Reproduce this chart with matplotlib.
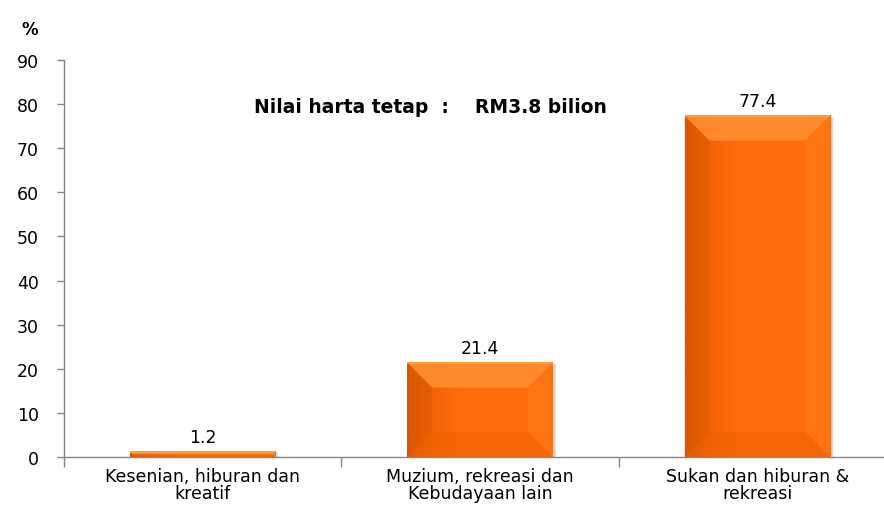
import matplotlib
matplotlib.use("Agg")
import matplotlib.pyplot as plt
import numpy as np
from matplotlib.patches import Polygon
from matplotlib.colors import to_rgba

categories = ["Kesenian, hiburan dan\nkreatif",
              "Muzium, rekreasi dan\nKebudayaan lain",
              "Sukan dan hiburan &\nrekreasi"]
values = [1.2, 21.4, 77.4]
value_labels = ["1.2", "21.4", "77.4"]
yticks = [0, 10, 20, 30, 40, 50, 60, 70, 80, 90]
note = "Nilai harta tetap  :    RM3.8 bilion"
unit = "%"

plt.rcParams['font.family'] = ['DejaVu Sans']

W, H = 884, 510
fig = plt.figure(figsize=(W / 100, H / 100), dpi=100)
ax = fig.add_axes([64 / W, (H - 458) / H, (896 - 64) / W, (458 - 61) / H])

x = np.arange(len(values))
ax.set_xlim(-0.5, len(values) - 0.5)
ax.set_ylim(0, 90)
face = '#FF6C0C'
bars = ax.bar(x, values, width=0.525, color=face, zorder=2)

# pixel -> data scales
bbox = ax.get_window_extent()
px_x = (ax.get_xlim()[1] - ax.get_xlim()[0]) / bbox.width
px_y = (ax.get_ylim()[1] - ax.get_ylim()[0]) / bbox.height

c_dark = np.array(to_rgba('#DC5800'))
c_face = np.array(to_rgba(face))
for b in bars:
    x0, w, h = b.get_x(), b.get_width(), b.get_height()
    x1 = x0 + w
    # soft shadow to the right
    ax.add_patch(Polygon([(x1, 0), (x1 + 3 * px_x, 0), (x1 + 3 * px_x, h - 2 * px_y),
                          (x1, h)], closed=True, facecolor='#D8D8D8',
                         edgecolor='none', zorder=1.9))
    # horizontal gradient, darker at left
    n = 64
    t = np.linspace(0, 1, n)
    ramp = np.clip(t / 0.35, 0, 1)[:, None] ** 0.8
    cols = c_dark * (1 - ramp) + c_face * ramp
    img = cols[None, :, :]
    ax.imshow(img, extent=[x0, x1, 0, h], aspect='auto', zorder=2.1,
              interpolation='bilinear')
    # bevel
    wpx = w / px_x
    hpx = h / px_y
    bev = min(25, wpx / 2, hpx / 2)
    bx, by = bev * px_x, bev * px_y
    top = [(x0, h), (x1, h), (x1 - bx, h - by), (x0 + bx, h - by)]
    left = [(x0, 0), (x0, h), (x0 + bx, h - by), (x0 + bx, by)]
    right = [(x1, 0), (x1, h), (x1 - bx, h - by), (x1 - bx, by)]
    bottom = [(x0, 0), (x1, 0), (x1 - bx, by), (x0 + bx, by)]
    for poly, col, a in [(left, '#D85400', 0.35), (right, '#FF7A18', 0.6),
                         (bottom, '#EE6000', 0.45), (top, '#FF8E30', 0.9)]:
        ax.add_patch(Polygon(poly, closed=True, facecolor=col, alpha=a,
                             edgecolor='none', zorder=2.2))
    # bright top edge line
    ax.plot([x0, x1], [h, h], color='#FFA449', lw=1.2, zorder=2.3,
            solid_capstyle='butt')

ax.set_xlim(-0.5, len(values) - 0.5)
ax.set_ylim(0, 90)

for xi, v, lab in zip(x, values, value_labels):
    ax.annotate(lab, (xi, v), xytext=(0, 4), textcoords='offset points',
                ha='center', va='bottom', fontsize=12.5, color='black')

ax.set_yticks(yticks)
ax.set_yticklabels([str(t) for t in yticks], fontsize=12.5)
ax.set_xticks(x)
ax.set_xticklabels(categories, fontsize=12.5, linespacing=0.95)
ax.set_xticks(np.arange(-0.5, len(values)), minor=True)
ax.tick_params(axis='x', which='major', length=0, pad=7)
ax.tick_params(axis='x', which='minor', length=7, width=1, color='#868686')
ax.tick_params(axis='y', length=5, width=1, color='#868686', pad=13)

for s in ['top', 'right']:
    ax.spines[s].set_visible(False)
for s in ['left', 'bottom']:
    ax.spines[s].set_color('#868686')
    ax.spines[s].set_linewidth(1)

ax.text(0.44, 0.882, note, transform=ax.transAxes, ha='center', va='center',
        fontsize=13.5, fontweight='bold', color='black')
fig.text(30 / W, 1 - 30 / H, unit, ha='center', va='center',
         fontsize=12, fontweight='bold')

fig.savefig('out.png', dpi=100)
